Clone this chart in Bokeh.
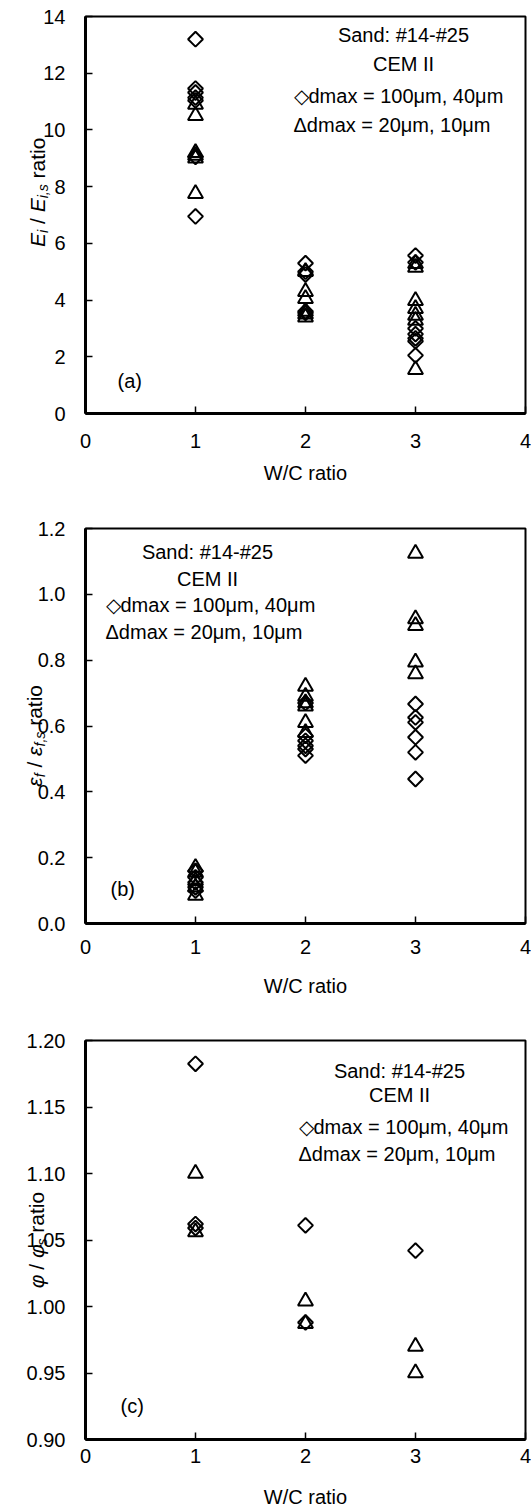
from math import pi
from bokeh.plotting import figure
from bokeh.layouts import column
from bokeh.models import (Label, FixedTicker, PrintfTickFormatter, Range1d,
                          BoxAnnotation)
from bokeh.embed import file_html
from bokeh.resources import INLINE

# ---------------- data ----------------
wc_ticks = [0, 1, 2, 3, 4]

# panel (a): Ei / Ei,s ratio
a_dia_wc = [1, 1, 1, 1, 1, 1, 1, 2, 2, 2, 2, 2, 3, 3, 3, 3, 3, 3, 3]
a_dia_val = [13.2, 11.46, 11.32, 11.14, 11.04, 9.05, 6.95,
             5.3, 5.0, 4.9, 3.6, 3.55,
             5.57, 5.33, 3.0, 2.8, 2.65, 2.55, 2.05]
a_tri_wc = [1, 1, 1, 1, 1, 1, 2, 2, 2, 2, 2, 2, 3, 3, 3, 3, 3, 3, 3]
a_tri_val = [10.9, 10.5, 9.2, 9.1, 9.0, 7.75,
             5.0, 4.3, 4.05, 3.6, 3.5, 3.4,
             5.28, 5.15, 3.98, 3.70, 3.46, 3.28, 1.55]
a_yticks = [0, 2, 4, 6, 8, 10, 12, 14]

# panel (b): eps_f / eps_f,s ratio
b_dia_wc = [1, 1, 1, 1, 1, 2, 2, 2, 2, 2, 2, 3, 3, 3, 3, 3, 3]
b_dia_val = [0.16, 0.14, 0.125, 0.11, 0.10,
             0.67, 0.57, 0.555, 0.54, 0.53, 0.51,
             0.667, 0.626, 0.611, 0.566, 0.52, 0.439]
b_tri_wc = [1, 1, 1, 1, 1, 2, 2, 2, 2, 2, 2, 3, 3, 3, 3, 3]
b_tri_val = [0.17, 0.155, 0.13, 0.11, 0.085,
             0.72, 0.69, 0.67, 0.66, 0.61, 0.58,
             1.124, 0.925, 0.905, 0.794, 0.758]
b_yticks = [0.0, 0.2, 0.4, 0.6, 0.8, 1.0, 1.2]

# panel (c): phi / phi_s ratio
c_dia_wc = [1, 1, 1, 2, 2, 3]
c_dia_val = [1.1825, 1.062, 1.059, 1.061, 0.988, 1.042]
c_tri_wc = [1, 1, 2, 2, 3, 3]
c_tri_val = [1.100, 1.056, 1.004, 0.987, 0.970, 0.950]
c_yticks = [0.90, 0.95, 1.00, 1.05, 1.10, 1.15, 1.20]

title1 = "Sand: #14-#25"
title2 = "CEM II"
leg1 = "\u25c7dmax = 100\u03bcm, 40\u03bcm"
leg2 = "\u0394dmax = 20\u03bcm, 10\u03bcm"
xlab = "W/C ratio"

FONT = "Liberation Sans"
FS = 20
YFS, YSUB = 21, 14
PLOT_L, PLOT_R = 85, 525          # canvas px of W/C = 0 and 4
X0 = -PLOT_L / ((PLOT_R - PLOT_L) / 4.0)
X1 = 4 + (531 - PLOT_R) / ((PLOT_R - PLOT_L) / 4.0)

# approximate Arial advance widths (em)
W = {'E': .667, 'i': .222, ' ': .278, '/': .278, ',': .278, 's': .5,
     'r': .333, 'a': .556, 't': .278, 'o': .556, 'f': .278,
     '\u03b5': .45, '\u03c6': .60}


def tw(s, size):
    return sum(W.get(ch, .556) for ch in s) * size


def make_fig(g, yr, yticks, fmt):
    ppu = (g['bottom'] - g['top']) / (yr[1] - yr[0])
    ytop = yr[1] + (g['top'] - g['start']) / ppu
    ybot = yr[0] - (g['start'] + g['height'] - g['bottom']) / ppu
    p = figure(width=531, height=g['height'], output_backend="svg",
               toolbar_location=None, x_range=Range1d(X0, X1),
               y_range=Range1d(ybot, ytop), min_border_left=0,
               min_border_right=0, min_border_top=0, min_border_bottom=0)
    p.xgrid.visible = False
    p.ygrid.visible = False
    p.outline_line_alpha = 0
    p.xaxis.ticker = FixedTicker(ticks=wc_ticks)
    p.yaxis.ticker = FixedTicker(ticks=yticks)
    p.xaxis.bounds = (0, 4)
    p.yaxis.bounds = yr
    p.yaxis.fixed_location = 0
    p.xaxis.fixed_location = yr[0]
    if fmt:
        p.yaxis.formatter = PrintfTickFormatter(format=fmt)
    for ax in p.axis:
        ax.axis_line_width = 3
        ax.axis_line_color = "black"
        ax.major_tick_in = 7
        ax.major_tick_out = 0
        ax.minor_tick_in = 0
        ax.minor_tick_out = 0
        ax.major_tick_line_width = 1.5
        ax.major_tick_line_color = "black"
        ax.major_label_text_font = FONT
        ax.major_label_text_font_size = f"{FS}px"
        ax.major_label_text_color = "black"
    p.yaxis.major_label_standoff = 20
    p.xaxis.major_label_standoff = g['ts']
    p.background_fill_color = "white"
    p.border_fill_color = "white"
    p.add_layout(BoxAnnotation(left=0, right=4, bottom=yr[0], top=yr[1],
                               fill_alpha=0, line_color="black",
                               line_width=2, line_alpha=1))
    return p


def conv(g, yr):
    def X(px):
        return (px - PLOT_L) / (PLOT_R - PLOT_L) * 4
    def Y(py):
        return yr[0] + (g['bottom'] - py) / (g['bottom'] - g['top']) * (yr[1] - yr[0])
    return X, Y


def add_text(p, X, Y, px, py, text, align="center", size=FS):
    p.add_layout(Label(x=X(px), y=Y(py), text=text, text_align=align,
                       text_baseline="middle", text_font=FONT,
                       text_font_size=f"{size}px", text_color="black"))


def ytitle(p, X, g, yr, segs, center_val, base_px):
    ppu = (g['bottom'] - g['top']) / (yr[1] - yr[0])
    total = sum(tw(t, sz) for t, sz, it, sh in segs)
    y = center_val - total / 2 / ppu
    for t, sz, it, sh in segs:
        lead = len(t) - len(t.lstrip(' '))
        ystart = y + tw(' ' * lead, sz) / ppu
        txt = t.strip(' ')
        if txt:
            p.add_layout(Label(x=X(base_px + sh), y=ystart, text=txt,
                               angle=pi / 2, text_align="left",
                               text_baseline="alphabetic", text_font=FONT,
                               text_font_size=f"{sz}px",
                               text_font_style="italic" if it else "normal",
                               text_color="black"))
        y += tw(t, sz) / ppu


def scatter_pair(p, dwc, dval, twc, tval):
    p.scatter(dwc, dval, marker="square", angle=pi / 4, size=10.5,
              fill_alpha=0, line_color="black", line_width=2)
    p.scatter(twc, tval, marker="triangle", size=15,
              fill_alpha=0, line_color="black", line_width=2)


def annotate(p, X, Y, tcx, ty1, ty2, lx, ly1, ly2, tag, tagx, tagy, xly):
    add_text(p, X, Y, tcx, ty1, title1)
    add_text(p, X, Y, tcx, ty2, title2)
    add_text(p, X, Y, lx, ly1, leg1, align="left")
    add_text(p, X, Y, lx, ly2, leg2, align="left")
    add_text(p, X, Y, tagx, tagy, tag, align="left")
    add_text(p, X, Y, (PLOT_L + PLOT_R) / 2, xly, xlab)


# ---------------- panel (a) ----------------
ga = dict(start=0, top=16, bottom=413, height=498, ts=20)
yra = (0, 14)
pa = make_fig(ga, yra, a_yticks, None)
Xa, Ya = conv(ga, yra)
scatter_pair(pa, a_dia_wc, a_dia_val, a_tri_wc, a_tri_val)
annotate(pa, Xa, Ya, 403, 34, 63, 293, 95, 124, "(a)", 117, 380, 472)
ytitle(pa, Xa, ga, yra,
       [("E", YFS, True, 0), ("i", YSUB, True, 5), (" / ", YFS, False, 0),
        ("E", YFS, True, 0), ("i,s", YSUB, True, 5), (" ratio", YFS, False, 0)],
       7.8, 37)

# ---------------- panel (b) ----------------
gb = dict(start=498, top=528, bottom=923, height=512, ts=16)
yrb = (0, 1.2)
pb = make_fig(gb, yrb, b_yticks, "%.1f")
Xb, Yb = conv(gb, yrb)
scatter_pair(pb, b_dia_wc, b_dia_val, b_tri_wc, b_tri_val)
annotate(pb, Xb, Yb, 207, 551, 578, 105, 604, 631, "(b)", 110, 888, 985)
ytitle(pb, Xb, gb, yrb,
       [("\u03b5", YFS, True, 0), ("f", YSUB, True, 5), (" / ", YFS, False, 0),
        ("\u03b5", YFS, True, 0), ("f,s", YSUB, True, 5), (" ratio", YFS, False, 0)],
       0.57, 34)

# ---------------- panel (c) ----------------
gc = dict(start=1010, top=1040, bottom=1439, height=498, ts=9)
yrc = (0.90, 1.20)
pc = make_fig(gc, yrc, c_yticks, "%.2f")
Xc, Yc = conv(gc, yrc)
scatter_pair(pc, c_dia_wc, c_dia_val, c_tri_wc, c_tri_val)
annotate(pc, Xc, Yc, 399, 1070, 1094, 298, 1126, 1153, "(c)", 120, 1405, 1496)
ytitle(pc, Xc, gc, yrc,
       [("\u03c6", YFS, True, 0), (" / ", YFS, False, 0),
        ("\u03c6", YFS, True, 0), ("s", YSUB, True, 5), (" ratio", YFS, False, 0)],
       1.05, 36)

layout = column(pa, pb, pc, spacing=0)
open("out.html", "w").write(file_html(layout, INLINE))
